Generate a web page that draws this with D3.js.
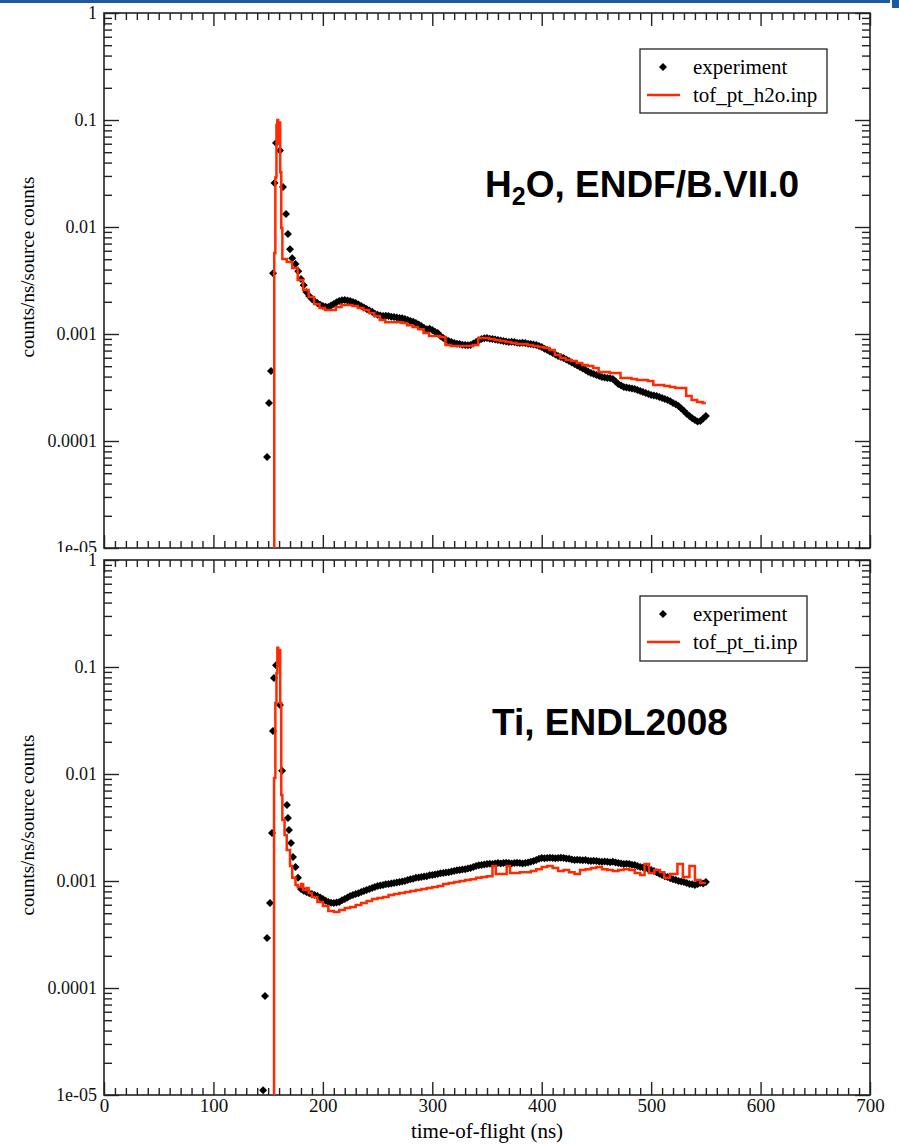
<!DOCTYPE html>
<html>
<head>
<meta charset="utf-8">
<script src="https://cdn.jsdelivr.net/npm/d3@7"></script>
<style>
  body { margin: 0; background: #fff; }
  svg { display: block; }
</style>
</head>
<body>
<svg width="899" height="1145"></svg>
<script>
// ---- data ----
const xTickValues = [0, 100, 200, 300, 400, 500, 600, 700];
const yTickValues = [1, 0.1, 0.01, 0.001, 0.0001, 0.00001];
const yTickLabels = ["1", "0.1", "0.01", "0.001", "0.0001", "1e-05"];

// H2O panel, experiment [time (ns), counts/ns/source counts]
const h2oExp = [
  [149, 7.1e-5], [150.8, 2.26e-4], [152.6, 4.5e-4], [154.5, 3.7e-3], [155.8, 2.58e-2], [157.2, 6.1e-2],
  [160.8, 5.2e-2], [163.6, 2.37e-2], [166.3, 1.32e-2], [168.1, 8.6e-3], [170, 6.2e-3], [172, 5.1e-3],
  [175, 4.51e-3], [177.5, 3.85e-3], [180, 3.27e-3], [182.5, 2.85e-3], [185, 2.47e-3], [187.5, 2.27e-3],
  [190, 2.12e-3], [192.5, 2.02e-3], [195, 1.95e-3], [197.5, 1.88e-3], [200, 1.83e-3], [202.5, 1.8e-3],
  [205, 1.79e-3], [207.5, 1.85e-3], [210, 1.91e-3], [212.5, 1.98e-3], [215, 2.03e-3], [217.5, 2.07e-3],
  [220, 2.08e-3], [222.5, 2.06e-3], [225, 2.03e-3], [227.5, 1.99e-3], [230, 1.95e-3], [232.5, 1.89e-3],
  [235, 1.83e-3], [237.5, 1.77e-3], [240, 1.71e-3], [242.5, 1.66e-3], [245, 1.61e-3], [247.5, 1.55e-3],
  [250, 1.51e-3], [252.5, 1.49e-3], [255, 1.47e-3], [257.5, 1.48e-3], [260, 1.47e-3], [262.5, 1.45e-3],
  [265, 1.44e-3], [267.5, 1.43e-3], [270, 1.41e-3], [272.5, 1.4e-3], [275, 1.38e-3], [277.5, 1.35e-3],
  [280, 1.32e-3], [282.5, 1.3e-3], [285, 1.27e-3], [287.5, 1.23e-3], [290, 1.19e-3], [292.5, 1.14e-3],
  [295, 1.11e-3], [297.5, 1.12e-3], [300, 1.09e-3], [302.5, 1.05e-3], [305, 1.02e-3], [307.5, 9.6e-4],
  [310, 9.18e-4], [312.5, 8.85e-4], [315, 8.6e-4], [317.5, 8.4e-4], [320, 8.24e-4], [322.5, 8.12e-4],
  [325, 8.06e-4], [327.5, 7.95e-4], [330, 7.89e-4], [332.5, 7.85e-4], [335, 7.89e-4], [337.5, 8.15e-4],
  [340, 8.42e-4], [342.5, 8.75e-4], [345, 8.98e-4], [347.5, 9.12e-4], [350, 9.18e-4], [352.5, 9.05e-4],
  [355, 8.98e-4], [357.5, 8.88e-4], [360, 8.79e-4], [362.5, 8.7e-4], [365, 8.6e-4], [367.5, 8.5e-4],
  [370, 8.42e-4], [372.5, 8.45e-4], [375, 8.42e-4], [377.5, 8.3e-4], [380, 8.24e-4], [382.5, 8.28e-4],
  [385, 8.24e-4], [387.5, 8.12e-4], [390, 8.06e-4], [392.5, 7.98e-4], [395, 7.89e-4], [397.5, 7.72e-4],
  [400, 7.56e-4], [402.5, 7.3e-4], [405, 7.08e-4], [407.5, 6.85e-4], [410, 6.64e-4], [412.5, 6.42e-4],
  [415, 6.22e-4], [417.5, 6.1e-4], [420, 5.97e-4], [422.5, 5.78e-4], [425, 5.6e-4], [427.5, 5.42e-4],
  [430, 5.25e-4], [432.5, 5.08e-4], [435, 4.92e-4], [437.5, 4.76e-4], [440, 4.61e-4], [442.5, 4.45e-4],
  [445, 4.32e-4], [447.5, 4.22e-4], [450, 4.14e-4], [452.5, 4.05e-4], [455, 3.97e-4], [457.5, 3.92e-4],
  [460, 3.88e-4], [462.5, 3.85e-4], [465, 3.8e-4], [467.5, 3.6e-4], [470, 3.41e-4], [472.5, 3.3e-4],
  [475, 3.2e-4], [477.5, 3.16e-4], [480, 3.13e-4], [482.5, 3.1e-4], [485, 3.06e-4], [487.5, 2.99e-4],
  [490, 2.93e-4], [492.5, 2.87e-4], [495, 2.81e-4], [497.5, 2.75e-4], [500, 2.69e-4], [502.5, 2.66e-4],
  [505, 2.64e-4], [507.5, 2.58e-4], [510, 2.52e-4], [512.5, 2.47e-4], [515, 2.42e-4], [517.5, 2.35e-4],
  [520, 2.27e-4], [522.5, 2.2e-4], [525, 2.12e-4], [527.5, 2.01e-4], [530, 1.91e-4], [532.5, 1.8e-4],
  [535, 1.71e-4], [537.5, 1.63e-4], [540, 1.57e-4], [542.5, 1.52e-4], [545, 1.54e-4], [547.5, 1.62e-4],
  [550, 1.71e-4]
];

// H2O panel, calculation [histogram bin start (ns), value]
const h2oCalc = [
  [140, 1e-7], [155.6, 5.7e-3], [156.6, 2.9e-2], [157.6, 9.0e-2], [158.4, 1.0e-1], [159.2, 6.0e-2],
  [160, 9.5e-2], [161, 3.25e-2], [162, 9.8e-3], [163, 5.02e-3], [167, 4.71e-3], [172, 4.14e-3],
  [177, 3.2e-3], [182, 2.58e-3], [187, 2.22e-3], [192, 1.91e-3], [197, 1.75e-3], [202, 1.68e-3],
  [207, 1.68e-3], [212, 1.79e-3], [217, 1.87e-3], [222, 1.87e-3], [227, 1.83e-3], [232, 1.75e-3],
  [237, 1.68e-3], [242, 1.57e-3], [247, 1.47e-3], [252, 1.35e-3], [257, 1.29e-3], [262, 1.29e-3],
  [267, 1.29e-3], [272, 1.27e-3], [277, 1.21e-3], [282, 1.16e-3], [287, 1.11e-3], [292, 1.02e-3],
  [297, 9.58e-4], [302, 9.58e-4], [307, 9.37e-4], [312, 7.89e-4], [317, 7.73e-4], [322, 7.73e-4],
  [327, 7.73e-4], [332, 7.73e-4], [337, 7.89e-4], [342, 9.18e-4], [347, 9.18e-4], [352, 8.98e-4],
  [357, 8.79e-4], [362, 8.6e-4], [367, 8.42e-4], [372, 8.24e-4], [377, 8.06e-4], [382, 8.06e-4],
  [387, 7.89e-4], [392, 7.73e-4], [397, 7.56e-4], [402, 7.4e-4], [407, 7.08e-4], [412, 6.37e-4],
  [417, 5.97e-4], [422, 5.71e-4], [427, 5.6e-4], [432, 5.36e-4], [437, 5.13e-4], [442, 5.02e-4],
  [447, 4.81e-4], [452, 4.41e-4], [457, 4.41e-4], [462, 4.32e-4], [467, 4.32e-4], [472, 3.88e-4],
  [477, 3.88e-4], [482, 3.8e-4], [487, 3.72e-4], [492, 3.72e-4], [497, 3.64e-4], [502, 3.34e-4],
  [507, 3.34e-4], [512, 3.27e-4], [517, 3.2e-4], [522, 3.13e-4], [527, 3.13e-4], [532, 2.64e-4],
  [537, 2.42e-4], [542, 2.31e-4], [547, 2.27e-4], [550, 2.27e-4]
];

// Ti panel, experiment
const tiExp = [
  [145.4, 1.11e-5], [147.1, 8.4e-5], [149, 2.93e-4], [151.7, 6.22e-4], [153.5, 2.81e-3], [154.4, 2.52e-2],
  [155.3, 7.89e-2], [157.2, 1.04e-1], [160.8, 4.41e-2], [162.7, 1.07e-2], [167.2, 5.13e-3], [168.1, 3.88e-3],
  [169, 3.0e-3], [170.9, 2.26e-3], [172.7, 1.68e-3], [175, 1.35e-3], [177.3, 1.07e-3], [180, 8.42e-4],
  [182.5, 8.1e-4], [185, 7.89e-4], [187.5, 7.7e-4], [190, 7.56e-4], [192.5, 7.4e-4], [195, 7.24e-4],
  [197.5, 7.0e-4], [200, 6.79e-4], [202.5, 6.55e-4], [205, 6.37e-4], [207.5, 6.25e-4], [210, 6.22e-4],
  [212.5, 6.3e-4], [215, 6.37e-4], [217.5, 6.6e-4], [220, 6.79e-4], [222.5, 7.0e-4], [225, 7.24e-4],
  [227.5, 7.4e-4], [230, 7.56e-4], [232.5, 7.7e-4], [235, 7.89e-4], [237.5, 8.05e-4], [240, 8.24e-4],
  [242.5, 8.4e-4], [245, 8.6e-4], [247.5, 8.8e-4], [250, 8.98e-4], [252.5, 9.1e-4], [255, 9.18e-4],
  [257.5, 9.3e-4], [260, 9.37e-4], [262.5, 9.5e-4], [265, 9.58e-4], [267.5, 9.7e-4], [270, 9.79e-4],
  [272.5, 9.9e-4], [275, 1.0e-3], [277.5, 1.02e-3], [280, 1.04e-3], [282.5, 1.05e-3], [285, 1.07e-3],
  [287.5, 1.08e-3], [290, 1.09e-3], [292.5, 1.1e-3], [295, 1.11e-3], [297.5, 1.13e-3], [300, 1.14e-3],
  [302.5, 1.15e-3], [305, 1.16e-3], [307.5, 1.18e-3], [310, 1.19e-3], [312.5, 1.2e-3], [315, 1.21e-3],
  [317.5, 1.23e-3], [320, 1.24e-3], [322.5, 1.26e-3], [325, 1.27e-3], [327.5, 1.28e-3], [330, 1.29e-3],
  [332.5, 1.31e-3], [335, 1.32e-3], [337.5, 1.35e-3], [340, 1.38e-3], [342.5, 1.4e-3], [345, 1.41e-3],
  [347.5, 1.43e-3], [350, 1.44e-3], [352.5, 1.45e-3], [355, 1.44e-3], [357.5, 1.46e-3], [360, 1.47e-3],
  [362.5, 1.46e-3], [365, 1.47e-3], [367.5, 1.48e-3], [370, 1.47e-3], [372.5, 1.46e-3], [375, 1.47e-3],
  [377.5, 1.48e-3], [380, 1.47e-3], [382.5, 1.46e-3], [385, 1.47e-3], [387.5, 1.49e-3], [390, 1.51e-3],
  [392.5, 1.54e-3], [395, 1.57e-3], [397.5, 1.61e-3], [400, 1.64e-3], [402.5, 1.63e-3], [405, 1.64e-3],
  [407.5, 1.65e-3], [410, 1.64e-3], [412.5, 1.63e-3], [415, 1.64e-3], [417.5, 1.65e-3], [420, 1.64e-3],
  [422.5, 1.62e-3], [425, 1.61e-3], [427.5, 1.59e-3], [430, 1.57e-3], [432.5, 1.58e-3], [435, 1.57e-3],
  [437.5, 1.56e-3], [440, 1.57e-3], [442.5, 1.55e-3], [445, 1.54e-3], [447.5, 1.55e-3], [450, 1.54e-3],
  [452.5, 1.52e-3], [455, 1.51e-3], [457.5, 1.52e-3], [460, 1.51e-3], [462.5, 1.5e-3], [465, 1.51e-3],
  [467.5, 1.49e-3], [470, 1.47e-3], [472.5, 1.46e-3], [475, 1.44e-3], [477.5, 1.45e-3], [480, 1.44e-3],
  [482.5, 1.42e-3], [485, 1.41e-3], [487.5, 1.38e-3], [490, 1.35e-3], [492.5, 1.34e-3], [495, 1.32e-3],
  [497.5, 1.29e-3], [500, 1.27e-3], [502.5, 1.24e-3], [505, 1.21e-3], [507.5, 1.17e-3], [510, 1.14e-3],
  [512.5, 1.11e-3], [515, 1.09e-3], [517.5, 1.06e-3], [520, 1.04e-3], [522.5, 1.02e-3], [525, 1.0e-3],
  [527.5, 9.9e-4], [530, 9.79e-4], [532.5, 9.6e-4], [535, 9.37e-4], [537.5, 9.3e-4], [540, 9.18e-4],
  [542.5, 9.4e-4], [545, 9.58e-4], [547.5, 9.5e-4], [550, 9.79e-4]
];

// Ti panel, calculation
const tiCalc = [
  [140, 1e-7], [155.4, 9.18e-3], [156.6, 4.61e-2], [157.6, 8.79e-2], [158.4, 1.51e-1], [159.2, 1.04e-1],
  [160, 1.44e-1], [161, 4.61e-2], [162, 6.37e-3], [163, 3.72e-3], [165, 2.69e-3], [167, 1.95e-3],
  [170, 1.38e-3], [172, 1.07e-3], [175, 9.18e-4], [177, 8.79e-4], [180, 9.37e-4], [182, 8.24e-4],
  [185, 8.6e-4], [187, 7.73e-4], [190, 7.08e-4], [195, 6.37e-4], [200, 5.84e-4], [205, 5.25e-4],
  [210, 5.13e-4], [215, 5.36e-4], [220, 5.6e-4], [225, 5.71e-4], [230, 5.97e-4], [235, 6.22e-4],
  [240, 6.5e-4], [245, 6.79e-4], [250, 6.94e-4], [255, 7.08e-4], [260, 7.4e-4], [265, 7.56e-4],
  [270, 7.73e-4], [275, 7.89e-4], [280, 8.06e-4], [285, 8.24e-4], [290, 8.42e-4], [295, 8.6e-4],
  [300, 8.79e-4], [305, 8.98e-4], [310, 9.37e-4], [315, 9.58e-4], [320, 9.79e-4], [325, 1.0e-3],
  [330, 1.02e-3], [335, 1.04e-3], [340, 1.07e-3], [345, 1.09e-3], [350, 1.11e-3], [355, 1.38e-3],
  [358, 1.16e-3], [365, 1.16e-3], [368, 1.38e-3], [371, 1.19e-3], [380, 1.21e-3], [385, 1.21e-3],
  [390, 1.24e-3], [395, 1.29e-3], [400, 1.35e-3], [405, 1.38e-3], [410, 1.32e-3], [415, 1.24e-3],
  [420, 1.27e-3], [425, 1.21e-3], [430, 1.16e-3], [435, 1.27e-3], [440, 1.29e-3], [445, 1.32e-3],
  [450, 1.35e-3], [455, 1.29e-3], [460, 1.27e-3], [465, 1.24e-3], [470, 1.27e-3], [475, 1.29e-3],
  [480, 1.27e-3], [485, 1.19e-3], [490, 1.14e-3], [494, 1.44e-3], [498, 1.19e-3], [503, 1.27e-3],
  [508, 1.21e-3], [512, 1.07e-3], [517, 1.16e-3], [524, 1.44e-3], [529, 1.09e-3], [535, 1.38e-3],
  [540, 1.02e-3], [545, 9.58e-4], [550, 9.58e-4]
];

// ---- layout ----
const svg = d3.select("svg");
const width = +svg.attr("width");
const height = +svg.attr("height");
const left = 104, right = 870;
const red = "#ff2a00";
const serif = "Liberation Serif, Times New Roman, serif";

const panels = [
  { top: 13, bottom: 548, bgTop: 0, exp: h2oExp, calc: h2oCalc, labelY: 267,
    calcName: "tof_pt_h2o.inp", legend: { x: 640, y: 49, w: 187, h: 64 }, showX: false,
    note: { x: 485, y: 197, main: "H", sub: "2", rest: "O, ENDF/B.VII.0" } },
  { top: 560, bottom: 1095, bgTop: 552, exp: tiExp, calc: tiCalc, labelY: 825,
    calcName: "tof_pt_ti.inp", legend: { x: 640, y: 596, w: 167, h: 65 }, showX: true,
    note: { x: 492, y: 735, main: "Ti, ENDL2008", sub: "", rest: "" } }
];

svg.append("rect").attr("width", width).attr("height", height).attr("fill", "#fff");

const xScale = d3.scaleLinear().domain([0, 700]).range([left, right]);
const xMinor = d3.range(0, 701, 10).filter((d) => d % 100 !== 0);
const diamond = d3.symbol().type(d3.symbolSquare).size(32);

panels.forEach((p, pi) => {
  const g = svg.append("g");
  // white backing so this panel hides the cut-off label of the one above
  g.append("rect").attr("x", 0).attr("y", p.bgTop).attr("width", width)
    .attr("height", height - p.bgTop).attr("fill", "#fff");

  const yScale = d3.scaleLog().domain([1e-5, 1]).range([p.bottom, p.top]);
  const yMinor = [];
  [1e-5, 1e-4, 1e-3, 1e-2, 1e-1].forEach((dec) => {
    for (let k = 2; k <= 9; k++) yMinor.push(dec * k);
  });

  const axisStyle = (sel) => {
    sel.select(".domain").remove();
    sel.selectAll("line").attr("stroke", "#222").attr("stroke-width", 1.4);
    sel.selectAll("text").attr("font-family", serif).attr("fill", "#111");
  };

  // bottom axis
  g.append("g").attr("transform", `translate(0,${p.bottom})`)
    .call(d3.axisBottom(xScale).tickValues(xMinor).tickSize(-7).tickFormat(""))
    .call(axisStyle);
  const xb = g.append("g").attr("transform", `translate(0,${p.bottom})`)
    .call(d3.axisBottom(xScale).tickValues(xTickValues).tickSize(-13).tickPadding(4)
      .tickFormat((d) => (p.showX ? d : "")))
    .call(axisStyle);
  xb.selectAll("text").attr("font-size", 19);

  // top axis
  g.append("g").attr("transform", `translate(0,${p.top})`)
    .call(d3.axisTop(xScale).tickValues(xMinor).tickSize(-7).tickFormat(""))
    .call(axisStyle);
  g.append("g").attr("transform", `translate(0,${p.top})`)
    .call(d3.axisTop(xScale).tickValues(xTickValues).tickSize(-13).tickFormat(""))
    .call(axisStyle);

  // left axis
  g.append("g").attr("transform", `translate(${left},0)`)
    .call(d3.axisLeft(yScale).tickValues(yMinor).tickSize(-8).tickFormat(""))
    .call(axisStyle);
  const yl = g.append("g").attr("transform", `translate(${left},0)`)
    .call(d3.axisLeft(yScale).tickValues(yTickValues).tickSize(-15).tickPadding(7)
      .tickFormat((d, i) => yTickLabels[i]))
    .call(axisStyle);
  yl.selectAll("text").attr("font-size", 18);

  // right axis
  g.append("g").attr("transform", `translate(${right},0)`)
    .call(d3.axisRight(yScale).tickValues(yMinor).tickSize(-8).tickFormat(""))
    .call(axisStyle);
  g.append("g").attr("transform", `translate(${right},0)`)
    .call(d3.axisRight(yScale).tickValues(yTickValues).tickSize(-15).tickFormat(""))
    .call(axisStyle);

  // frame
  g.append("rect").attr("x", left).attr("y", p.top)
    .attr("width", right - left).attr("height", p.bottom - p.top)
    .attr("fill", "none").attr("stroke", "#222").attr("stroke-width", 1.6);

  // y axis title
  g.append("text")
    .attr("transform", `translate(34,${p.labelY}) rotate(-90)`)
    .attr("text-anchor", "middle")
    .attr("font-family", serif).attr("font-size", 19)
    .text("counts/ns/source counts");

  // data, clipped to the plot box
  const clipId = "clip" + pi;
  g.append("clipPath").attr("id", clipId).append("rect")
    .attr("x", left).attr("y", p.top).attr("width", right - left).attr("height", p.bottom - p.top);
  const dg = g.append("g").attr("clip-path", `url(#${clipId})`);

  dg.selectAll("path.pt").data(p.exp).enter().append("path")
    .attr("class", "pt")
    .attr("d", diamond)
    .attr("transform", (d) => `translate(${xScale(d[0])},${yScale(d[1])}) rotate(45)`)
    .attr("fill", "#000");

  const line = d3.line().curve(d3.curveStepAfter)
    .x((d) => xScale(d[0]))
    .y((d) => yScale(Math.max(d[1], 1e-8)));
  dg.append("path").attr("d", line(p.calc))
    .attr("fill", "none").attr("stroke", red).attr("stroke-width", 2.5);

  // legend
  const L = p.legend;
  const lg = g.append("g");
  lg.append("rect").attr("x", L.x).attr("y", L.y).attr("width", L.w).attr("height", L.h)
    .attr("fill", "#fff").attr("stroke", "#222").attr("stroke-width", 1.3);
  lg.append("path").attr("d", diamond)
    .attr("transform", `translate(${L.x + 23},${L.y + 18}) rotate(45)`).attr("fill", "#000");
  lg.append("text").attr("x", L.x + 53).attr("y", L.y + 25)
    .attr("font-family", serif).attr("font-size", 21).text("experiment");
  lg.append("line").attr("x1", L.x + 7).attr("x2", L.x + 40)
    .attr("y1", L.y + 46).attr("y2", L.y + 46).attr("stroke", red).attr("stroke-width", 2.5);
  lg.append("text").attr("x", L.x + 53).attr("y", L.y + 53)
    .attr("font-family", serif).attr("font-size", 21).text(p.calcName);

  // annotation
  const n = p.note;
  const nt = g.append("text").attr("x", n.x).attr("y", n.y)
    .attr("font-family", "Liberation Sans, Arial, sans-serif").attr("font-weight", "bold")
    .attr("font-size", 37).attr("fill", "#000");
  nt.append("tspan").text(n.main);
  if (n.sub) {
    nt.append("tspan").attr("font-size", 25).attr("dy", 8).text(n.sub);
    nt.append("tspan").attr("dy", -8).text(n.rest);
  }
});

// x axis title
svg.append("text").attr("x", 487).attr("y", 1138).attr("text-anchor", "middle")
  .attr("font-family", serif).attr("font-size", 21).text("time-of-flight (ns)");

// blue strip along the top edge
svg.append("rect").attr("x", 0).attr("y", 0).attr("width", 890).attr("height", 3).attr("fill", "#1b5a9e");
svg.append("rect").attr("x", 892).attr("y", 0).attr("width", 7).attr("height", 8).attr("fill", "#1b5a9e");
</script>
</body>
</html>
